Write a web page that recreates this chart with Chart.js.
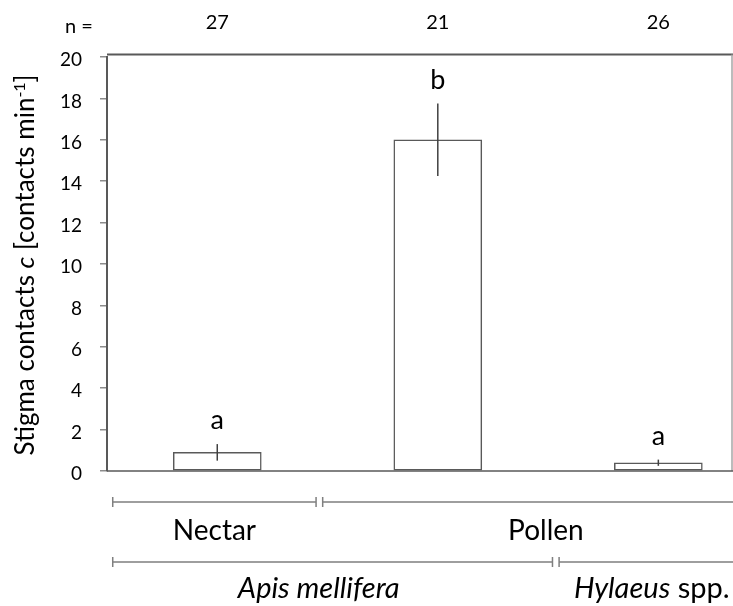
<!DOCTYPE html>
<html>
<head>
<meta charset="utf-8">
<script src="https://cdn.jsdelivr.net/npm/chart.js@4"></script>
<style>
  html, body { margin: 0; padding: 0; background: #fff; }
  #wrap { width: 733px; height: 606px; position: relative; }
</style>
</head>
<body>
<div id="wrap"><canvas id="bar-chart"></canvas></div>
<script>
// stigma contacts per minute, mean and error
const groups = ['Apis mellifera – Nectar', 'Apis mellifera – Pollen', 'Hylaeus spp. – Pollen'];
const contacts = [0.9, 16.0, 0.4];
const errors = [0.4, 1.75, 0.15];
const letters = ['a', 'b', 'a'];
const sampleSizes = [27, 21, 26];
const yTicks = [0, 2, 4, 6, 8, 10, 12, 14, 16, 18, 20];

const FONT = 'Lato';
const lineGrey = '#595959';

// bracket rows under the axis: label, start, end (in x units), label centre
const resourceRow = [
    { text: 'Nectar', from: 0.026, to: 0.948, at: 0.487 },
    { text: 'Pollen', from: 0.978, to: 3.0, at: 1.99 }
];
const speciesRow = [
    { text: 'Apis mellifera', from: 0.026, to: 2.02, at: 0.96 },
    { text: 'Hylaeus spp.', from: 2.05, to: 3.0, at: 2.47 }
];

function drawBracketRow(ctx, xs, row, y) {
    ctx.strokeStyle = '#7f7f7f';
    ctx.lineWidth = 1.5;
    row.forEach(b => {
        const x1 = xs.getPixelForValue(b.from);
        const x2 = xs.getPixelForValue(b.to);
        ctx.beginPath();
        ctx.moveTo(x1, y); ctx.lineTo(x2, y);
        ctx.moveTo(x1, y - 5); ctx.lineTo(x1, y + 5);
        ctx.moveTo(x2, y - 5); ctx.lineTo(x2, y + 5);
        ctx.stroke();
    });
}

function drawRuns(ctx, runs, x, y) {
    let cx = x;
    runs.forEach(r => {
        ctx.font = r.font;
        ctx.fillText(r.text, cx, y + (r.dy || 0));
        cx += ctx.measureText(r.text).width;
    });
}

function runsWidth(ctx, runs) {
    return runs.reduce((w, r) => { ctx.font = r.font; return w + ctx.measureText(r.text).width; }, 0);
}

const extras = {
    id: 'extras',
    afterDatasetsDraw(chart) {
        const ctx = chart.ctx;
        const xs = chart.scales.x, ys = chart.scales.y;
        const area = chart.chartArea;
        ctx.save();

        // frame: top and right edges, base line
        ctx.strokeStyle = lineGrey;
        ctx.lineWidth = 2;
        ctx.beginPath();
        ctx.moveTo(area.left, area.top - 2.5);
        ctx.lineTo(chart.width, area.top - 2.5);
        ctx.stroke();
        ctx.strokeStyle = '#a6a6a6';
        ctx.lineWidth = 1.5;
        ctx.beginPath();
        ctx.moveTo(area.right, area.top - 2.5);
        ctx.lineTo(area.right, area.bottom);
        ctx.stroke();
        ctx.strokeStyle = lineGrey;
        ctx.lineWidth = 1.5;
        ctx.beginPath();
        ctx.moveTo(area.left, area.bottom);
        ctx.lineTo(chart.width, area.bottom);
        ctx.stroke();

        // error bars and significance letters
        ctx.textAlign = 'center';
        ctx.textBaseline = 'alphabetic';
        ctx.fillStyle = '#000';
        contacts.forEach((v, i) => {
            const x = xs.getPixelForValue(i + 0.5);
            const yTop = ys.getPixelForValue(v + errors[i]);
            const yBot = ys.getPixelForValue(v - errors[i]);
            ctx.strokeStyle = '#404040';
            ctx.lineWidth = 1.5;
            ctx.beginPath();
            ctx.moveTo(x, yTop); ctx.lineTo(x, yBot);
            ctx.stroke();
            ctx.font = '27px ' + FONT;
            ctx.fillText(letters[i], x, yTop - 15);

            // sample sizes above the frame
            ctx.font = '20px ' + FONT;
            ctx.fillText(String(sampleSizes[i]), x, 29);
        });
        ctx.font = '20px ' + FONT;
        ctx.fillText('n =', 79, 33);

        // category brackets
        drawBracketRow(ctx, xs, resourceRow, 502);
        drawBracketRow(ctx, xs, speciesRow, 562);
        resourceRow.forEach(b => {
            ctx.font = '28px ' + FONT;
            ctx.fillText(b.text, xs.getPixelForValue(b.at), 540);
        });
        ctx.textAlign = 'left';
        const apis = [{ text: 'Apis mellifera', font: 'italic 29px ' + FONT }];
        const hyl = [
            { text: 'Hylaeus', font: 'italic 29px ' + FONT },
            { text: ' spp.', font: '29px ' + FONT }
        ];
        [[apis, speciesRow[0]], [hyl, speciesRow[1]]].forEach(([runs, b]) => {
            const w = runsWidth(ctx, runs);
            drawRuns(ctx, runs, xs.getPixelForValue(b.at) - w / 2, 598);
        });

        // y axis title with italic symbol and superscript
        const title = [
            { text: 'Stigma contacts ', font: '26px ' + FONT },
            { text: 'c', font: 'italic 26px ' + FONT },
            { text: ' [contacts min', font: '26px ' + FONT },
            { text: '-1', font: '16px ' + FONT, dy: -9 },
            { text: ']', font: '26px ' + FONT }
        ];
        ctx.translate(34, 265);
        ctx.rotate(-Math.PI / 2);
        const tw = runsWidth(ctx, title);
        drawRuns(ctx, title, -tw / 2, 0);

        ctx.restore();
    }
};

new Chart(document.getElementById('bar-chart'), {
    type: 'bar',
    data: {
        labels: groups,
        datasets: [{
            label: 'Stigma contacts',
            data: contacts.map((v, i) => ({ x: i + 0.5, y: v })),
            backgroundColor: '#ffffff',
            borderColor: lineGrey,
            borderWidth: 1.5,
            borderSkipped: false,
            barThickness: 88
        }]
    },
    options: {
        responsive: true,
        maintainAspectRatio: false,
        animation: false,
        layout: { padding: { top: 57, right: 1, bottom: 135, left: 0 } },
        plugins: {
            legend: { display: false },
            tooltip: { enabled: false }
        },
        scales: {
            x: {
                type: 'linear',
                display: false,
                offset: false,
                min: 0,
                max: 2.834
            },
            y: {
                min: 0,
                max: 20,
                afterBuildTicks: s => { s.ticks = yTicks.map(v => ({ value: v })); },
                afterFit: s => { s.width = 107; },
                border: { display: true, color: lineGrey, width: 2 },
                grid: { drawOnChartArea: false, drawTicks: true, tickLength: 7, color: '#8c8c8c', lineWidth: 1.5 },
                ticks: {
                    font: { family: FONT, size: 19 },
                    color: '#000',
                    padding: 18,
                    labelOffset: 3
                }
            }
        }
    },
    plugins: [extras]
});
</script>
</body>
</html>
